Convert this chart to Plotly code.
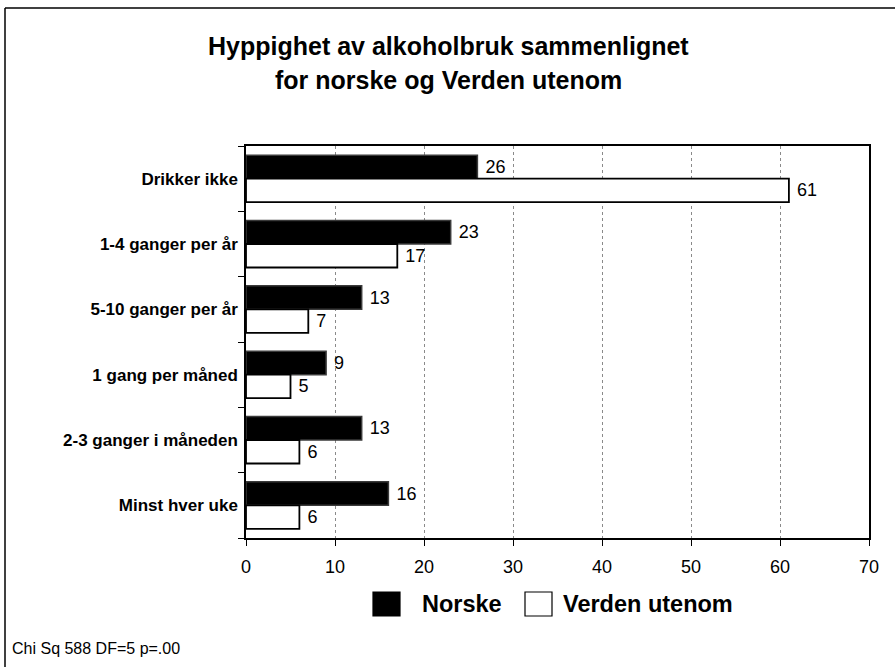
import plotly.graph_objects as go

categories = ["Drikker ikke", "1-4 ganger per år", "5-10 ganger per år",
              "1 gang per måned", "2-3 ganger i måneden", "Minst hver uke"]
series_names = ["Norske", "Verden utenom"]
norske = [26, 23, 13, 9, 13, 16]
verden = [61, 17, 7, 5, 6, 6]
x_ticks = [0, 10, 20, 30, 40, 50, 60, 70]
title_lines = ["Hyppighet av alkoholbruk sammenlignet", "for norske og Verden utenom"]
footnote = "Chi Sq 588 DF=5 p=.00"

FONT = "Liberation Sans, Arial, sans-serif"

fig = go.Figure()
fig.add_trace(go.Bar(
    y=categories, x=norske, name=series_names[0], orientation="h",
    marker=dict(color="#000000", line=dict(color="#3a3a3a", width=1.5)),
    text=norske, texttemplate="\u00a0%{text}", textposition="outside",
    textfont=dict(family=FONT, size=18, color="#000"), cliponaxis=False,
))
fig.add_trace(go.Bar(
    y=categories, x=verden, name=series_names[1], orientation="h",
    marker=dict(color="#ffffff", line=dict(color="#000000", width=1.8)),
    text=verden, texttemplate="\u00a0%{text}", textposition="outside",
    textfont=dict(family=FONT, size=18, color="#000"), cliponaxis=False,
))

W, H = 895, 667
L, R, T, B = 246, 26, 146, 129
pw, ph = W - L - R, H - T - B

def px_x(p):
    return (p - L) / pw

def px_y(p):
    return (H - B - p) / ph

fig.update_layout(
    width=W, height=H,
    margin=dict(l=L, r=R, t=T, b=B),
    paper_bgcolor="white", plot_bgcolor="white",
    barmode="group", bargap=0.28, bargroupgap=0,
    showlegend=False,
    font=dict(family=FONT, color="#000"),
)
fig.update_xaxes(
    range=[0, 70], tickvals=x_ticks, ticks="outside", ticklen=6,
    tickcolor="#000", showline=True, linecolor="#000", linewidth=1.5,
    mirror=True, showgrid=True, gridcolor="#8a8a8a", griddash="dot",
    gridwidth=1, zeroline=False,
    tickfont=dict(family=FONT, size=18, color="#000"),
    ticklabelstandoff=6,
)
fig.update_yaxes(
    autorange="reversed", ticks="outside", ticklen=6, tickcolor="#000",
    tickson="boundaries", showline=True, linecolor="#000", linewidth=1.5,
    mirror=True, showgrid=False,
    tickfont=dict(family=FONT, size=17, color="#000"),
    ticklabelstandoff=3,
    tickvals=categories, ticktext=["<b>" + c + "</b>" for c in categories],
)

# title (two lines)
for line, yc in zip(title_lines, [46, 80]):
    fig.add_annotation(xref="paper", yref="paper", x=px_x(448), y=px_y(yc),
                       xanchor="center", yanchor="middle", showarrow=False,
                       text="<b>" + line + "</b>",
                       font=dict(family=FONT, size=25, color="#000"))

# outer frame (top and left edges)
fig.add_shape(type="line", xref="paper", yref="paper",
              x0=px_x(5), x1=px_x(W + 5), y0=px_y(8), y1=px_y(8),
              line=dict(color="#000", width=1.5))
fig.add_shape(type="line", xref="paper", yref="paper",
              x0=px_x(5), x1=px_x(5), y0=px_y(8), y1=px_y(H + 5),
              line=dict(color="#000", width=1.5))

# custom legend
leg_y = 604
items = [(373, "#000000", 420), (525, "#ffffff", 561)]
for (sx, col, tx), name in zip(items, series_names):
    fig.add_shape(type="rect", xref="paper", yref="paper",
                  x0=px_x(sx), x1=px_x(sx + 27), y0=px_y(leg_y - 12), y1=px_y(leg_y + 12),
                  fillcolor=col, line=dict(color="#000", width=1.2))
    fig.add_annotation(xref="paper", yref="paper", x=px_x(tx), y=px_y(leg_y),
                       xanchor="left", yanchor="middle", showarrow=False,
                       text="<b>" + name + "</b>",
                       font=dict(family=FONT, size=23.5, color="#000"))

fig.add_annotation(xref="paper", yref="paper", x=px_x(10), y=px_y(648),
                   xanchor="left", yanchor="middle", showarrow=False,
                   text=footnote, font=dict(family=FONT, size=16, color="#000"))

fig.write_html("out.html", config={"displayModeBar": False},
               post_script="document.body.style.margin='0';")
